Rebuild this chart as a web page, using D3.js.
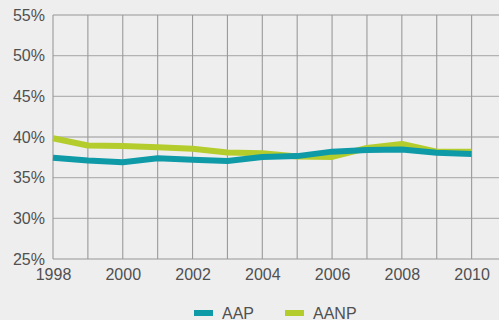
<!DOCTYPE html>
<html>
<head>
<meta charset="utf-8">
<script src="https://cdn.jsdelivr.net/npm/d3@7"></script>
<style>
  html, body { margin: 0; padding: 0; background: #eeeeee; }
  svg { display: block; }
  text { font-family: "Liberation Sans", Arial, sans-serif; fill: #505050; }
</style>
</head>
<body>
<svg id="chart" width="499" height="320"></svg>
<script>
// Share of annual totals, 1998–2010
const years = [1998, 1999, 2000, 2001, 2002, 2003, 2004, 2005, 2006, 2007, 2008, 2009, 2010];
const aap  = [37.45, 37.1, 36.9, 37.4, 37.2, 37.05, 37.55, 37.65, 38.2, 38.4, 38.45, 38.05, 37.9];
const aanp = [39.85, 38.95, 38.9, 38.75, 38.55, 38.1, 38.0, 37.6, 37.55, 38.65, 39.15, 38.2, 38.2];
const yTicks = [25, 30, 35, 40, 45, 50, 55];
const xTicks = [1998, 2000, 2002, 2004, 2006, 2008, 2010];
const seriesNames = ["AAP", "AANP"];
const colors = ["#0f9aa8", "#b4cc2c"];

const svg = d3.select("#chart");
const x = d3.scaleLinear().domain([1998, 2011]).range([53, 506.5]);
const y = d3.scaleLinear().domain([25, 55]).range([259, 15]);
const fontSize = 16;

// grid
const grid = svg.append("g");
grid.selectAll("line.h").data(yTicks).join("line")
  .attr("x1", x(1998)).attr("x2", 499)
  .attr("y1", d => y(d)).attr("y2", d => y(d))
  .attr("stroke", "#b3b3b3").attr("stroke-width", 1.3);
grid.selectAll("line.v").data(d3.range(1998, 2011)).join("line")
  .attr("x1", d => x(d)).attr("x2", d => x(d))
  .attr("y1", y(55)).attr("y2", y(25))
  .attr("stroke", "#9a9a9a").attr("stroke-width", 1.1);

// y axis labels
const yAxis = d3.axisLeft(y).tickValues(yTicks).tickSize(0).tickPadding(8)
  .tickFormat(d => d + "%");
svg.append("g").attr("transform", `translate(${x(1998)},0)`).call(yAxis)
  .call(g => g.select(".domain").remove())
  .call(g => g.selectAll("text").attr("font-size", fontSize)
    .attr("font-family", "Liberation Sans, Arial, sans-serif").attr("fill", "#505050"));

// x axis labels
const xAxis = d3.axisBottom(x).tickValues(xTicks).tickSize(0).tickPadding(10)
  .tickFormat(d3.format("d"));
svg.append("g").attr("transform", `translate(0,${y(25)})`).call(xAxis)
  .call(g => g.select(".domain").remove())
  .call(g => g.selectAll("text").attr("font-size", fontSize)
    .attr("font-family", "Liberation Sans, Arial, sans-serif").attr("fill", "#505050"));

// lines
const line = d3.line().x((d, i) => x(years[i])).y(d => y(d));
[aanp, aap].forEach((vals, k) => {
  const c = k === 0 ? colors[1] : colors[0];
  svg.append("path").datum(vals)
    .attr("d", line).attr("fill", "none")
    .attr("stroke", c).attr("stroke-width", 6)
    .attr("stroke-linejoin", "round");
});

// legend
const legendX = [194, 285];
seriesNames.forEach((name, i) => {
  const g = svg.append("g").attr("transform", `translate(${legendX[i]},313)`);
  g.append("rect").attr("x", 0).attr("y", -3).attr("width", 19).attr("height", 6)
    .attr("fill", colors[i]);
  g.append("text").attr("x", 28).attr("y", 5.5).attr("font-size", fontSize).text(name);
});
</script>
</body>
</html>
